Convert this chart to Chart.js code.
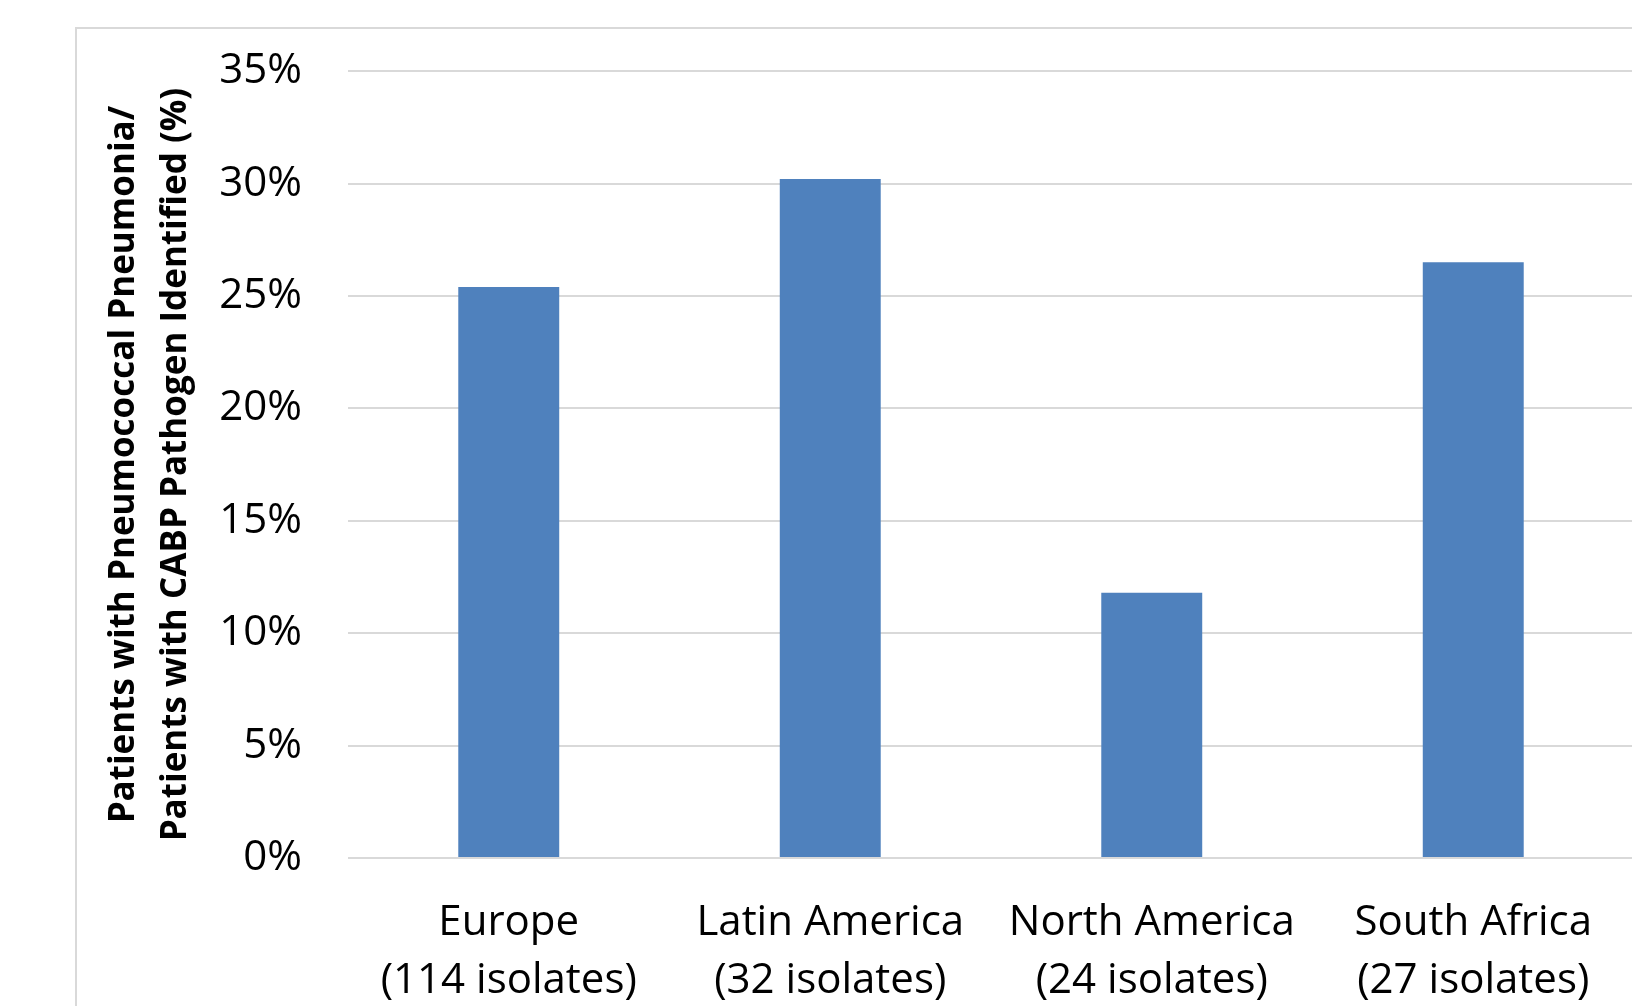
<!DOCTYPE html>
<html>
<head>
<meta charset="utf-8">
<script src="https://cdn.jsdelivr.net/npm/chart.js@4/dist/chart.umd.min.js"></script>
<style>
    html, body { margin: 0; padding: 0; background: #fff; overflow: hidden; }
    #wrap { position: relative; width: 1632px; height: 1006px; overflow: hidden; }
    #frame { position: absolute; left: 75px; top: 27px; right: -10px; bottom: -10px; border-left: 2px solid #d9d9d9; border-top: 2px solid #d9d9d9; }
    #box { position: absolute; left: 0; top: 0; width: 1640px; height: 1006px; }
</style>
</head>
<body>
<div id="wrap">
    <div id="frame"></div>
    <div id="box"><canvas id="chart"></canvas></div>
</div>
<script>
const regions = ["Europe", "Latin America", "North America", "South Africa"];
const isolates = ["(114 isolates)", "(32 isolates)", "(24 isolates)", "(27 isolates)"];
const pneumococcalShare = [25.4, 30.2, 11.8, 26.5];
const yTicks = [0, 5, 10, 15, 20, 25, 30, 35];
const yTitle = ["Patients with Pneumococcal Pneumonia/", "Patients with CABP Pathogen Identified (%)"];

const labels = regions.map((r, i) => [r, isolates[i]]);
const fontFamily = "'Open Sans', 'Noto Sans', sans-serif";

new Chart(document.getElementById("chart"), {
    type: "bar",
    data: {
        labels: labels,
        datasets: [{
            data: pneumococcalShare,
            backgroundColor: "#4f81bd",
            barPercentage: 0.314,
            categoryPercentage: 1
        }]
    },
    options: {
        responsive: true,
        maintainAspectRatio: false,
        animation: false,
        events: [],
        layout: { padding: { left: 98, top: 70, right: 6, bottom: 0 } },
        plugins: { legend: { display: false }, tooltip: { enabled: false } },
        scales: {
            x: {
                afterFit: axis => { axis.height = 148; },
                grid: { display: false, drawTicks: false },
                border: { display: false },
                ticks: {
                    color: "#000",
                    padding: 36,
                    maxRotation: 0,
                    font: { family: fontFamily, size: 42, lineHeight: 1.38 }
                }
            },
            y: {
                min: 0,
                max: 35,
                afterBuildTicks: axis => { axis.ticks = yTicks.map(v => ({ value: v })); },
                afterFit: axis => { axis.width = 250; },
                grid: { color: "#d9d9d9", lineWidth: 2, drawTicks: false },
                border: { display: false },
                ticks: {
                    color: "#000",
                    padding: 46,
                    callback: v => v + "%",
                    font: { family: fontFamily, size: 42 }
                },
                title: {
                    display: true,
                    text: yTitle,
                    color: "#000",
                    padding: { top: 0, bottom: 0 },
                    font: { family: fontFamily, size: 35, weight: "bold", lineHeight: 1.49 }
                }
            }
        }
    }
});
</script>
</body>
</html>
